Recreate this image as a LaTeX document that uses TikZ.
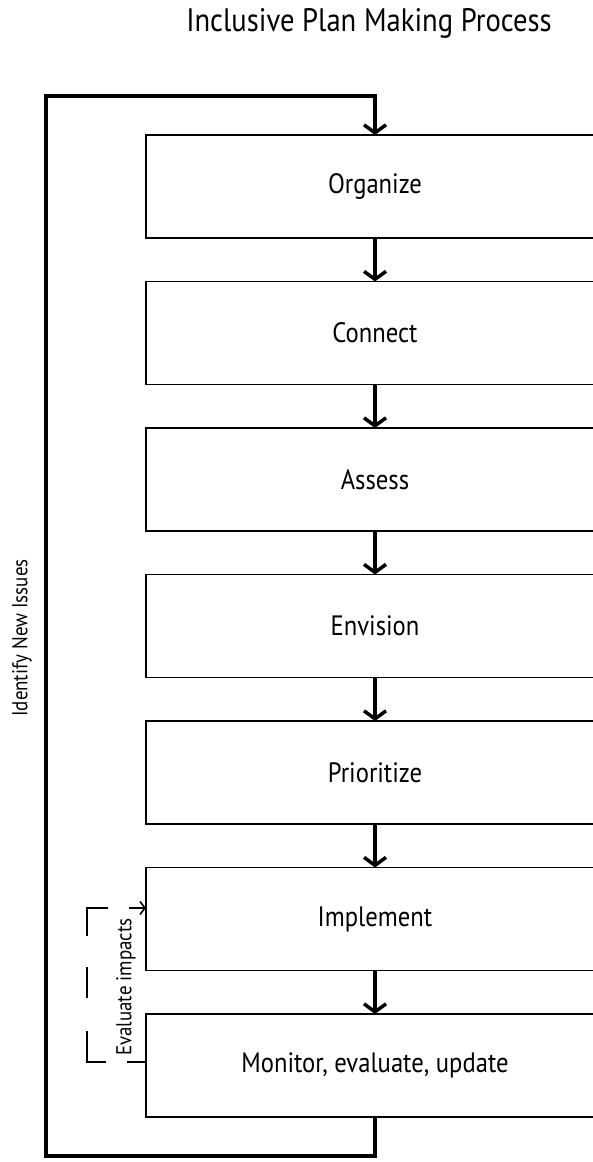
\documentclass[tikz,border=0pt]{standalone}
\usepackage{fontspec}
\setmainfont{PT Sans}[FakeStretch=0.88]
\usetikzlibrary{positioning,arrows.meta}

\tikzset{
  stage/.style={draw, line width=1.8pt, minimum width=458pt, minimum height=103pt,
    inner sep=0pt, outer sep=0pt, font=\fontsize{28}{32}\selectfont},
  flow/.style={line width=4.5pt, -{Straight Barb[length=8pt,width=22pt,line width=3.5pt]}},
  evalline/.style={line width=1.8pt, dash pattern=on 19pt off 21pt on 50pt off 33pt on 31pt off 31pt on 49pt off 21pt on 19pt,
    -{Straight Barb[length=5pt,width=13pt,line width=1.6pt]}},
  sidelabel/.style={rotate=90, inner sep=0pt, font=\fontsize{21.5}{24}\selectfont}
}

\begin{document}
\begin{tikzpicture}[x=1pt, y=-1pt]
  \useasboundingbox (0,0) rectangle (593,1162);
  \clip (0,0) rectangle (593,1162);

  \node[anchor=base, font=\fontsize{32.5}{36}\selectfont] (title) at (369,31) {Inclusive Plan Making Process};

  % the stages
  \node[stage] (org) at (375,186.5) {Organize};
  \node[stage, below=43.5pt of org] (con) {Connect};
  \node[stage, below=43.5pt of con] (ass) {Assess};
  \node[stage, below=43.5pt of ass] (env) {Envision};
  \node[stage, below=43.5pt of env] (pri) {Prioritize};
  \node[stage, below=43.5pt of pri] (imp) {Implement};
  \node[stage, below=43.5pt of imp] (mon) {Monitor, evaluate, update};

  \draw[flow] (org) -- (con);
  \draw[flow] (con) -- (ass);
  \draw[flow] (ass) -- (env);
  \draw[flow] (env) -- (pri);
  \draw[flow] (pri) -- (imp);
  \draw[flow] (imp) -- (mon);

  % feedback loop
  \coordinate (loopbl) at (46,1156);
  \coordinate (looptl) at (46,96);
  \draw[flow] (mon.south) |- (loopbl) -- (looptl) -| (org.north);
  \node[sidelabel] (newissues) at (22,638) {Identify New Issues};

  % evaluation
  \coordinate (evb) at (87,1062);
  \coordinate (evt) at (87,908);
  \draw[evalline] (mon.west |- evb) -- (evb) -- (evt) -- (imp.west |- evt);
  \node[sidelabel] (evimpacts) at (126,987) {Evaluate impacts};
\end{tikzpicture}
\end{document}
